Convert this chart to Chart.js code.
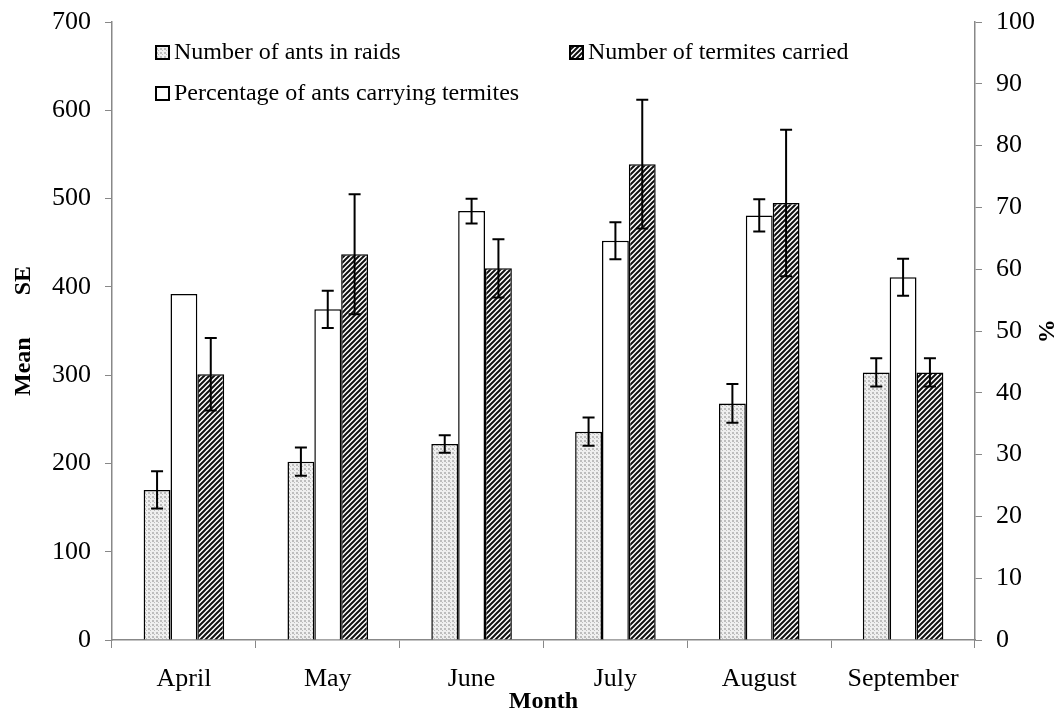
<!DOCTYPE html>
<html>
<head>
<meta charset="utf-8">
<script src="https://cdn.jsdelivr.net/npm/chart.js@4.4.1/dist/chart.umd.min.js"></script>
<style>
  html, body { margin: 0; padding: 0; background: #fff; }
  #wrap { width: 1064px; height: 711px; }
</style>
</head>
<body>
<div id="wrap"><canvas id="raidChart" width="1064" height="711"></canvas></div>
<script>
// values
const months = ['April', 'May', 'June', 'July', 'August', 'September'];
const antsInRaids = [170, 202, 222, 236, 268, 303];
const antsErr = [21, 16, 10, 16, 22, 16];
const pctCarrying = [56, 53.5, 69.4, 64.6, 68.7, 58.7];
const pctErr = [null, 3, 2, 3, 2.6, 3];
const termitesCarried = [301, 437, 421, 539, 495, 303];
const termitesErr = [41, 68, 33, 73, 83, 16];

const serif = '"Liberation Serif", "Times New Roman", serif';

// fill patterns for the bars
function makeDots() {
    const c = document.createElement('canvas');
    c.width = 4; c.height = 4;
    const g = c.getContext('2d');
    g.fillStyle = '#efefef';
    g.fillRect(0, 0, 4, 4);
    g.fillStyle = '#bdbdbd';
    g.fillRect(0, 0, 2, 2);
    g.fillRect(2, 2, 1, 1);
    return g.createPattern(c, 'repeat');
}

function makeHatch() {
    const s = 5;
    const c = document.createElement('canvas');
    c.width = s; c.height = s;
    const g = c.getContext('2d');
    g.fillStyle = '#fff';
    g.fillRect(0, 0, s, s);
    g.strokeStyle = '#111';
    g.lineWidth = 2;
    g.beginPath();
    g.moveTo(-1, s + 1); g.lineTo(s + 1, -1);
    g.moveTo(-1, 1); g.lineTo(1, -1);
    g.moveTo(s - 1, s + 1); g.lineTo(s + 1, s - 1);
    g.stroke();
    return g.createPattern(c, 'repeat');
}

const ctx = document.getElementById('raidChart').getContext('2d');
const dotFill = makeDots();
const hatchFill = makeHatch();

// error bars drawn through the scales
const errorBars = {
    id: 'errorBars',
    afterDatasetsDraw(chart) {
        const c = chart.ctx;
        c.save();
        c.strokeStyle = '#000';
        c.lineWidth = 2;
        chart.data.datasets.forEach((ds, i) => {
            const meta = chart.getDatasetMeta(i);
            const scale = chart.scales[ds.yAxisID || 'y'];
            meta.data.forEach((bar, j) => {
                const e = ds.errors[j];
                if (e == null) return;
                const v = ds.data[j];
                const yTop = scale.getPixelForValue(v + e);
                const yBot = scale.getPixelForValue(v - e);
                const x = bar.x;
                c.beginPath();
                c.moveTo(x, yTop); c.lineTo(x, yBot);
                c.moveTo(x - 6, yTop); c.lineTo(x + 6, yTop);
                c.moveTo(x - 6, yBot); c.lineTo(x + 6, yBot);
                c.stroke();
            });
        });
        c.restore();
    }
};

// legend drawn inside the plot area (ants, percentage, termites)
const innerLegend = {
    id: 'innerLegend',
    afterDraw(chart) {
        const c = chart.ctx;
        const a = chart.chartArea;
        const spots = [
            { x: a.left + 44, y: a.top + 30 },
            { x: a.left + 44, y: a.top + 71 },
            { x: a.left + 458, y: a.top + 30 }
        ];
        c.save();
        c.font = '24px ' + serif;
        c.textBaseline = 'middle';
        chart.data.datasets.forEach((ds, i) => {
            const p = spots[i];
            c.fillStyle = ds.backgroundColor;
            c.fillRect(p.x, p.y - 6, 13, 13);
            c.strokeStyle = '#000';
            c.lineWidth = 2;
            c.strokeRect(p.x, p.y - 6, 13, 13);
            c.fillStyle = '#000';
            c.fillText(ds.label, p.x + 18, p.y + 1);
        });
        c.restore();
    }
};

// keep the plot box where the figure has it
function fixVertical(width) {
    return function (scale) {
        scale.width = width;
        scale.paddingTop = 0;
        scale.paddingBottom = 0;
    };
}

new Chart(ctx, {
    type: 'bar',
    data: {
        labels: months,
        datasets: [
            {
                label: 'Number of ants in raids',
                data: antsInRaids,
                errors: antsErr,
                yAxisID: 'y',
                backgroundColor: dotFill,
                borderColor: '#000',
                borderWidth: 1.5
            },
            {
                label: 'Percentage of ants carrying termites',
                data: pctCarrying,
                errors: pctErr,
                yAxisID: 'y1',
                backgroundColor: '#fff',
                borderColor: '#000',
                borderWidth: 1.5
            },
            {
                label: 'Number of termites carried',
                data: termitesCarried,
                errors: termitesErr,
                yAxisID: 'y',
                backgroundColor: hatchFill,
                borderColor: '#000',
                borderWidth: 1.5
            }
        ]
    },
    options: {
        responsive: false,
        animation: false,
        layout: { padding: { top: 22, right: 0, left: 0, bottom: 0 } },
        datasets: {
            bar: { categoryPercentage: 0.56, barPercentage: 1.0 }
        },
        plugins: {
            legend: { display: false },
            tooltip: { enabled: false }
        },
        scales: {
            x: {
                grid: {
                    drawOnChartArea: false,
                    drawTicks: true,
                    tickLength: 8,
                    color: '#888',
                    offset: true
                },
                border: { color: '#888', width: 1.5 },
                ticks: { color: '#000', font: { family: serif, size: 26 }, padding: 16 },
                title: {
                    display: true,
                    text: 'Month',
                    color: '#000',
                    font: { family: serif, size: 24, weight: 'bold' },
                    padding: { top: -16, bottom: -5 }
                },
                afterFit(scale) { scale.height = 71; }
            },
            y: {
                position: 'left',
                min: 0,
                max: 700,
                ticks: { stepSize: 100, color: '#000', font: { family: serif, size: 26 }, padding: 14 },
                grid: { drawOnChartArea: false, drawTicks: true, tickLength: 7, color: '#888' },
                border: { color: '#888', width: 1.5 },
                title: {
                    display: true,
                    text: 'Mean       SE',
                    color: '#000',
                    font: { family: serif, size: 24, weight: 'bold' },
                    padding: { top: 9, bottom: 0 }
                },
                afterFit: fixVertical(112)
            },
            y1: {
                position: 'right',
                min: 0,
                max: 100,
                ticks: { stepSize: 10, color: '#000', font: { family: serif, size: 26 }, padding: 14 },
                grid: { drawOnChartArea: false, drawTicks: true, tickLength: 7, color: '#888' },
                border: { color: '#888', width: 1.5 },
                title: {
                    display: true,
                    text: '%',
                    color: '#000',
                    font: { family: serif, size: 24, weight: 'bold' }
                },
                afterFit: fixVertical(89)
            }
        }
    },
    plugins: [errorBars, innerLegend]
});
</script>
</body>
</html>
